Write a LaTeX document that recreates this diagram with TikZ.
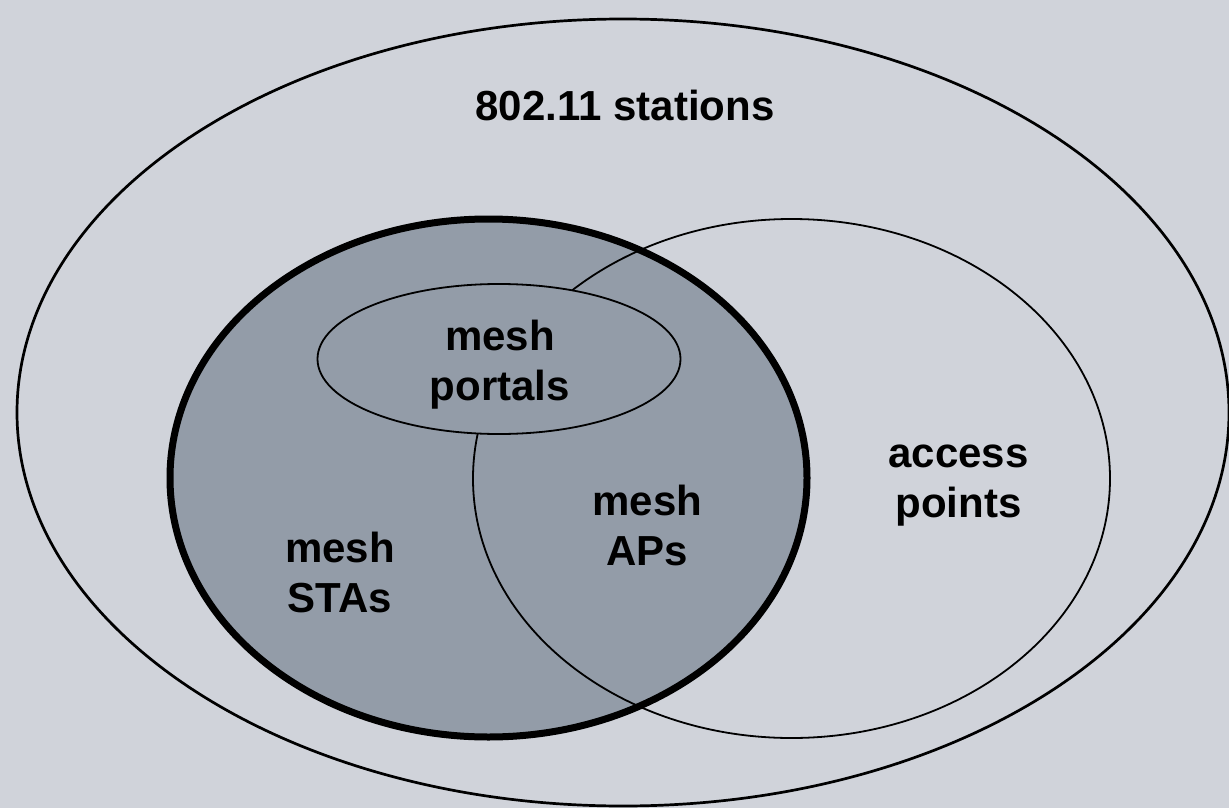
\documentclass[tikz,border=0pt]{standalone}
\usepackage{fontspec}
\setmainfont{Liberation Sans}
\definecolor{paper}{RGB}{208,211,218}
\definecolor{meshfill}{RGB}{147,156,168}
\tikzset{
  setline/.style={draw=black, line width=2.7pt},
  thinset/.style={draw=black, line width=1.8pt},
  meshset/.style={fill=meshfill},
  boldrim/.style={draw=black, line width=7pt},
  lbl/.style={anchor=base, inner sep=0pt, font=\bfseries\fontsize{42}{50}\selectfont}
}
\begin{document}
\begin{tikzpicture}[x=1pt,y=-1pt]
  \useasboundingbox (0,0) rectangle (1229,808);
  \fill[paper] (0,0) rectangle (1229,808);

  % all 802.11 stations
  \draw[setline] (623,412.5) ellipse [x radius=606pt, y radius=393.5pt];

  % mesh STAs (shaded set)
  \fill[meshset] (488.5,478) ellipse [x radius=318.5pt, y radius=259pt];

  % access points
  \draw[thinset] (791.5,478.5) ellipse [x radius=318.5pt, y radius=259.5pt];

  % mesh portals
  \filldraw[meshset, thinset] (499,359) ellipse [x radius=181.5pt, y radius=75pt];

  % heavy rim of the mesh STA set
  \draw[boldrim] (488.5,478) ellipse [x radius=318.5pt, y radius=259pt];

  % labels
  \node[lbl] (stations) at (625,120) {802.11 stations};
  \node[lbl] (portalsA) at (500,350) {mesh};
  \node[lbl] (portalsB) at (500,400) {portals};
  \node[lbl] (apA) at (958.5,467) {access};
  \node[lbl] (apB) at (958.5,517) {points};
  \node[lbl] (meshapA) at (647.5,515) {mesh};
  \node[lbl] (meshapB) at (647.5,565) {APs};
  \node[lbl] (staA) at (340,562) {mesh};
  \node[lbl] (staB) at (340,612) {STAs};
\end{tikzpicture}
\end{document}
